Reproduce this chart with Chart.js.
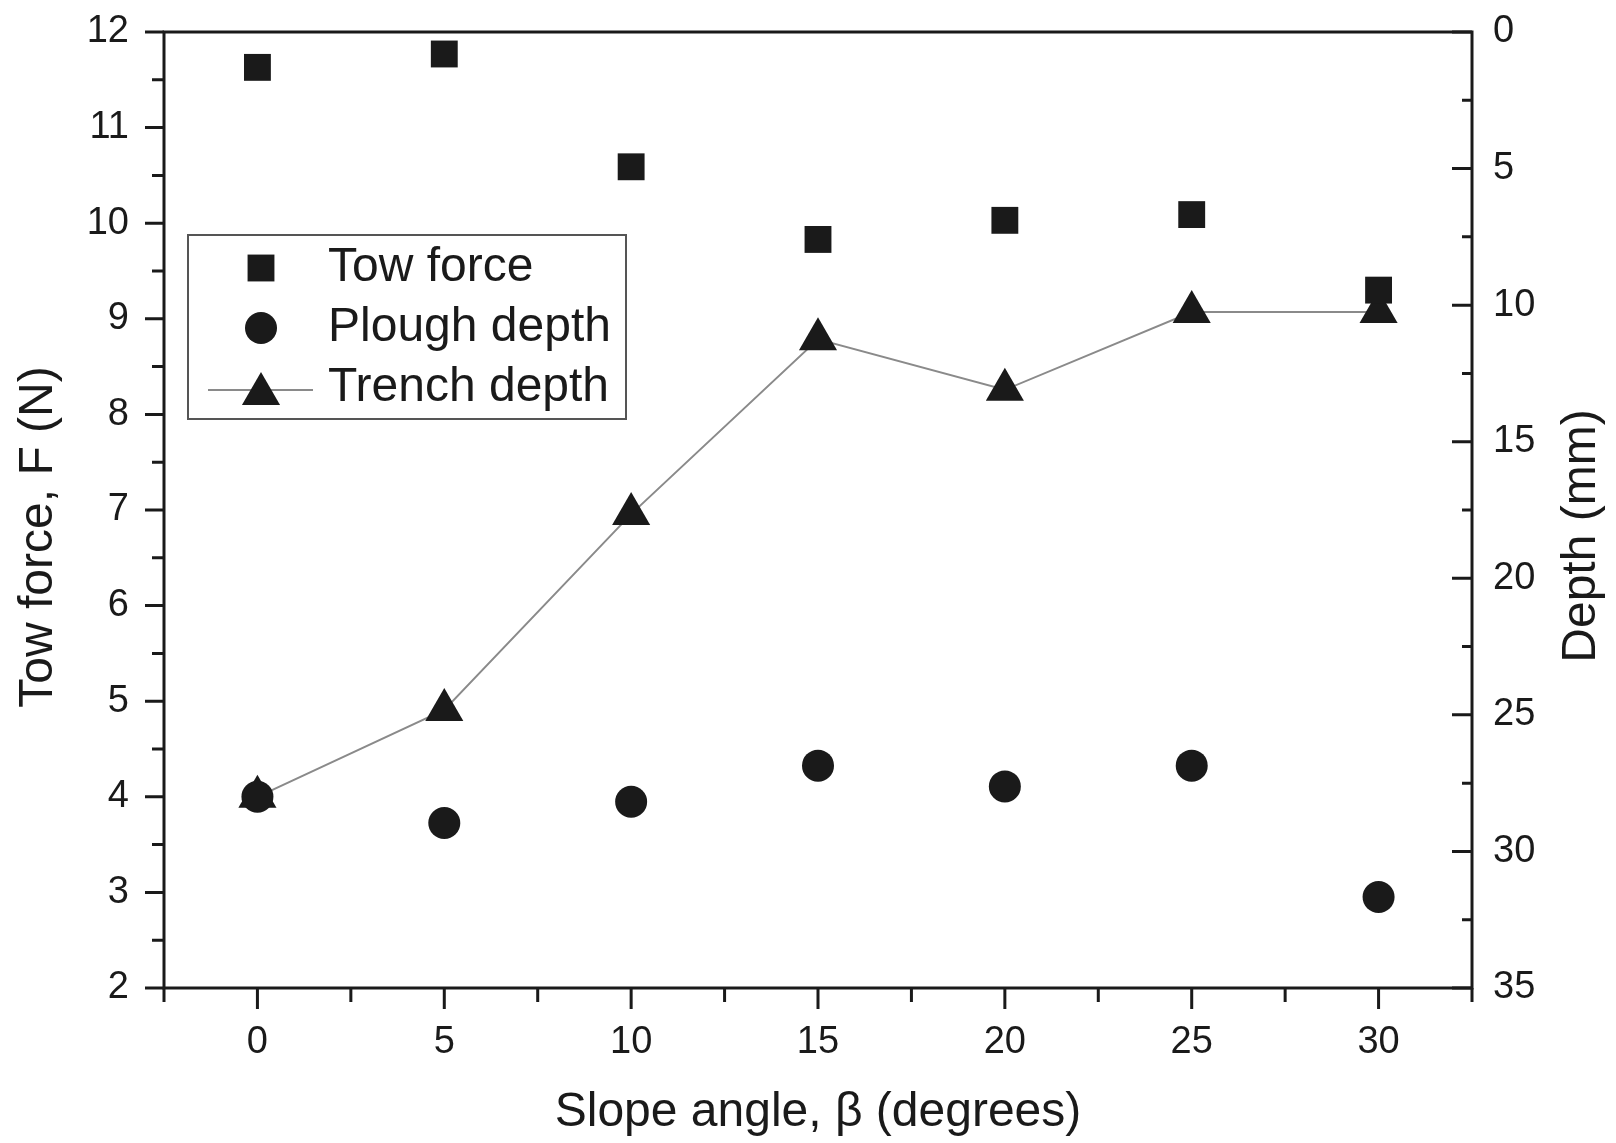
<!DOCTYPE html>
<html>
<head>
<meta charset="utf-8">
<script src="https://cdn.jsdelivr.net/npm/chart.js"></script>
<style>
  html, body { margin: 0; padding: 0; background: #fff; }
  #wrap { width: 1616px; height: 1143px; position: relative; }
</style>
</head>
<body>
<div id="wrap"><canvas id="towChart"></canvas></div>
<script>
// Slope angle (degrees) on x, tow force on left axis, depths on right axis
const slopeAngles = [0, 5, 10, 15, 20, 25, 30];
const towForce = [11.63, 11.77, 10.59, 9.83, 10.03, 10.09, 9.30];
const ploughDepth = [28.0, 28.96, 28.18, 26.86, 27.62, 26.86, 31.67];
const trenchDepth = [28.0, 24.82, 17.65, 11.25, 13.1, 10.25, 10.25];

const xTicks = [0, 5, 10, 15, 20, 25, 30];
const forceTicks = [2, 3, 4, 5, 6, 7, 8, 9, 10, 11, 12];
const depthTicks = [0, 5, 10, 15, 20, 25, 30, 35];

const xTitle = 'Slope angle, \u03B2 (degrees)';
const forceTitle = 'Tow force, F (N)';
const depthTitle = 'Depth (mm)';

const FONT = '"Liberation Sans", Arial, sans-serif';
const INK = '#1a1a1a';

function toPoints(values) {
    return slopeAngles.map((x, i) => ({ x: x, y: values[i] }));
}

// minor ticks halfway between the majors
function midpoints(majors) {
    return majors.slice(1).map((v, i) => (v + majors[i]) / 2);
}

// draw a marker like the datasets do (used for the legend)
function drawMarker(ctx, style, r, x, y) {
    ctx.beginPath();
    if (style === 'rect') {
        const s = Math.SQRT1_2 * r;
        ctx.rect(x - s, y - s, 2 * s, 2 * s);
    } else if (style === 'triangle') {
        ctx.moveTo(x, y - r);
        ctx.lineTo(x + r * Math.sin(2 * Math.PI / 3), y - r * Math.cos(2 * Math.PI / 3));
        ctx.lineTo(x + r * Math.sin(4 * Math.PI / 3), y - r * Math.cos(4 * Math.PI / 3));
        ctx.closePath();
    } else {
        ctx.arc(x, y, r, 0, Math.PI * 2);
    }
    ctx.fillStyle = INK;
    ctx.fill();
}

const framePlugin = {
    id: 'frame',
    beforeDatasetsDraw(chart) {
        const ctx = chart.ctx;
        const a = chart.chartArea;
        const xs = chart.scales.x;
        const ys = chart.scales.y;
        const y2 = chart.scales.y2;
        ctx.save();
        ctx.strokeStyle = INK;
        ctx.lineWidth = 3;
        ctx.strokeRect(a.left, a.top, a.right - a.left, a.bottom - a.top);

        ctx.beginPath();
        // bottom axis: outward ticks
        xTicks.forEach(v => {
            const px = xs.getPixelForValue(v);
            ctx.moveTo(px, a.bottom); ctx.lineTo(px, a.bottom + 21);
        });
        midpoints(xTicks).concat([xs.min, xs.max]).forEach(v => {
            const px = xs.getPixelForValue(v);
            ctx.moveTo(px, a.bottom); ctx.lineTo(px, a.bottom + 14);
        });
        // left axis: outward ticks
        forceTicks.forEach(v => {
            const py = ys.getPixelForValue(v);
            ctx.moveTo(a.left, py); ctx.lineTo(a.left - 19, py);
        });
        midpoints(forceTicks).forEach(v => {
            const py = ys.getPixelForValue(v);
            ctx.moveTo(a.left, py); ctx.lineTo(a.left - 12, py);
        });
        // right axis: inward ticks
        depthTicks.forEach(v => {
            const py = y2.getPixelForValue(v);
            ctx.moveTo(a.right, py); ctx.lineTo(a.right - 20, py);
        });
        midpoints(depthTicks).forEach(v => {
            const py = y2.getPixelForValue(v);
            ctx.moveTo(a.right, py); ctx.lineTo(a.right - 10, py);
        });
        ctx.stroke();
        ctx.restore();
    },
    afterDraw(chart) {
        const ctx = chart.ctx;
        const a = chart.chartArea;
        ctx.save();
        ctx.fillStyle = INK;
        ctx.font = '48px ' + FONT;
        ctx.textAlign = 'center';
        ctx.textBaseline = 'middle';

        // axis titles
        ctx.fillText(xTitle, (a.left + a.right) / 2, 1113);
        ctx.save();
        ctx.translate(39, 537);
        ctx.rotate(-Math.PI / 2);
        ctx.fillText(forceTitle, 0, 0);
        ctx.restore();
        ctx.save();
        ctx.translate(1582, 536);
        ctx.rotate(-Math.PI / 2);
        ctx.fillText(depthTitle, 0, 0);
        ctx.restore();

        // legend box
        const box = { left: 188, top: 235, width: 438, height: 184 };
        ctx.strokeStyle = '#555';
        ctx.lineWidth = 2;
        ctx.strokeRect(box.left, box.top, box.width, box.height);

        ctx.textAlign = 'left';
        chart.data.datasets.forEach((ds, i) => {
            const y = 268 + i * 60;
            if (ds.showLine) {
                ctx.beginPath();
                ctx.strokeStyle = ds.borderColor;
                ctx.lineWidth = ds.borderWidth;
                ctx.moveTo(208, y + 2); ctx.lineTo(313, y + 2);
                ctx.stroke();
            }
            drawMarker(ctx, ds.pointStyle, ds.pointRadius, 261, ds.pointStyle === 'triangle' ? y + 6 : y);
            ctx.fillStyle = INK;
            ctx.fillText(ds.label, 328, y);
        });
        ctx.restore();
    }
};

const tickFont = { family: FONT, size: 38 };

// fix the scale boxes so the plot area lands where the original has it
function fitVertical(width) {
    return scale => {
        scale.width = width;
        scale.paddingTop = 0;
        scale.paddingBottom = 0;
    };
}

new Chart(document.getElementById('towChart'), {
    type: 'scatter',
    data: {
        datasets: [{
            label: 'Tow force',
            data: toPoints(towForce),
            yAxisID: 'y',
            pointStyle: 'rect',
            pointRadius: 19,
            backgroundColor: INK,
            borderColor: INK,
            borderWidth: 0,
            showLine: false
        }, {
            label: 'Plough depth',
            data: toPoints(ploughDepth),
            yAxisID: 'y2',
            pointStyle: 'circle',
            pointRadius: 16,
            backgroundColor: INK,
            borderColor: INK,
            borderWidth: 0,
            showLine: false
        }, {
            label: 'Trench depth',
            data: toPoints(trenchDepth),
            yAxisID: 'y2',
            pointStyle: 'triangle',
            pointRadius: 22,
            pointBackgroundColor: INK,
            pointBorderWidth: 0,
            borderColor: '#8a8a8a',
            borderWidth: 2,
            showLine: true
        }]
    },
    options: {
        responsive: true,
        maintainAspectRatio: false,
        animation: false,
        layout: { padding: { top: 32, left: 0, right: 0, bottom: 0 } },
        plugins: {
            legend: { display: false },
            tooltip: { enabled: false }
        },
        scales: {
            x: {
                type: 'linear',
                position: 'bottom',
                min: -2.5,
                max: 32.5,
                afterBuildTicks: scale => { scale.ticks = xTicks.map(v => ({ value: v })); },
                afterFit: scale => {
                    scale.height = 155;
                    scale.paddingLeft = 0;
                    scale.paddingRight = 0;
                },
                grid: { display: false, drawTicks: false },
                border: { display: false },
                ticks: { font: tickFont, color: INK, padding: 32, maxRotation: 0 }
            },
            y: {
                type: 'linear',
                position: 'left',
                min: 2,
                max: 12,
                afterBuildTicks: scale => { scale.ticks = forceTicks.map(v => ({ value: v })); },
                afterFit: fitVertical(164),
                grid: { display: false, drawTicks: false },
                border: { display: false },
                ticks: { font: tickFont, color: INK, padding: 35 }
            },
            y2: {
                type: 'linear',
                position: 'right',
                reverse: true,
                min: 0,
                max: 35,
                afterBuildTicks: scale => { scale.ticks = depthTicks.map(v => ({ value: v })); },
                afterFit: fitVertical(144),
                grid: { display: false, drawTicks: false },
                border: { display: false },
                ticks: { font: tickFont, color: INK, padding: 21 }
            }
        }
    },
    plugins: [framePlugin]
});
</script>
</body>
</html>
